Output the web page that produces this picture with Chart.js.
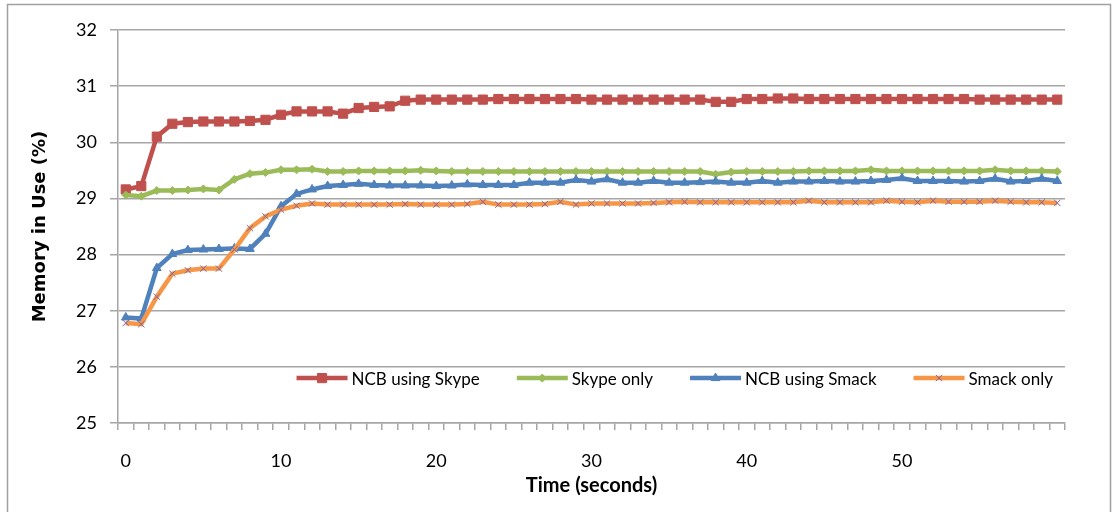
<!DOCTYPE html>
<html>
<head>
<meta charset="utf-8">
<script src="https://cdn.jsdelivr.net/npm/chart.js@4"></script>
<style>
  html, body { margin: 0; padding: 0; background: #fff; }
  #wrap { width: 1117px; height: 512px; position: relative; }
</style>
</head>
<body>
<div id="wrap"><canvas id="memChart" width="1117" height="512"></canvas></div>
<script>
const timeLabels = [0,1,2,3,4,5,6,7,8,9,10,11,12,13,14,15,16,17,18,19,20,21,22,23,24,25,26,27,28,29,
  30,31,32,33,34,35,36,37,38,39,40,41,42,43,44,45,46,47,48,49,50,51,52,53,54,55,56,57,58,59,60];

const ncbSkype = [29.16, 29.22, 30.10, 30.33, 30.36, 30.37, 30.37, 30.37, 30.38, 30.40,
  30.49, 30.55, 30.55, 30.55, 30.51, 30.61, 30.63, 30.64, 30.74, 30.76,
  30.76, 30.76, 30.76, 30.76, 30.77, 30.77, 30.77, 30.77, 30.77, 30.77,
  30.76, 30.76, 30.76, 30.76, 30.76, 30.76, 30.76, 30.76, 30.72, 30.72,
  30.77, 30.77, 30.78, 30.78, 30.77, 30.77, 30.77, 30.77, 30.77, 30.77,
  30.77, 30.77, 30.77, 30.77, 30.77, 30.76, 30.76, 30.76, 30.76, 30.76,
  30.76];

const skypeOnly = [29.06, 29.04, 29.14, 29.14, 29.15, 29.17, 29.15, 29.34, 29.44, 29.46,
  29.51, 29.51, 29.52, 29.48, 29.48, 29.49, 29.49, 29.49, 29.49, 29.50,
  29.49, 29.48, 29.48, 29.48, 29.48, 29.48, 29.48, 29.48, 29.48, 29.48,
  29.48, 29.48, 29.48, 29.48, 29.48, 29.48, 29.48, 29.48, 29.43, 29.47,
  29.48, 29.48, 29.48, 29.48, 29.49, 29.49, 29.49, 29.49, 29.51, 29.49,
  29.49, 29.49, 29.49, 29.49, 29.49, 29.49, 29.51, 29.49, 29.49, 29.49,
  29.48];

const ncbSmack = [26.88, 26.86, 27.76, 28.01, 28.08, 28.09, 28.10, 28.11, 28.10, 28.37,
  28.86, 29.08, 29.16, 29.22, 29.24, 29.26, 29.24, 29.23, 29.23, 29.23,
  29.22, 29.23, 29.25, 29.24, 29.24, 29.24, 29.28, 29.28, 29.28, 29.33,
  29.30, 29.34, 29.28, 29.28, 29.31, 29.28, 29.28, 29.29, 29.30, 29.28,
  29.28, 29.31, 29.28, 29.30, 29.30, 29.31, 29.30, 29.30, 29.31, 29.33,
  29.36, 29.31, 29.31, 29.31, 29.30, 29.31, 29.35, 29.30, 29.31, 29.35,
  29.31];

const smackOnly = [26.78, 26.76, 27.25, 27.66, 27.72, 27.75, 27.75, 28.09, 28.47, 28.68,
  28.80, 28.87, 28.91, 28.89, 28.89, 28.89, 28.89, 28.89, 28.90, 28.89,
  28.89, 28.89, 28.90, 28.94, 28.89, 28.89, 28.89, 28.90, 28.94, 28.89,
  28.91, 28.91, 28.91, 28.91, 28.92, 28.93, 28.94, 28.93, 28.93, 28.93,
  28.93, 28.93, 28.93, 28.93, 28.96, 28.93, 28.93, 28.93, 28.93, 28.96,
  28.94, 28.93, 28.96, 28.94, 28.94, 28.94, 28.96, 28.94, 28.93, 28.93,
  28.92];

const seriesNames = ['NCB using Skype', 'Skype only', 'NCB using Smack', 'Smack only'];
const xTickLabels = ['0', '10', '20', '30', '40', '50'];

const gridGrey = '#a6a6a6';
const fontFamily = 'Lato, "Open Sans", sans-serif';

// frame round the whole chart, like the Excel chart border
const framePlugin = {
  id: 'frame',
  beforeDraw(chart) {
    const ctx = chart.ctx;
    ctx.save();
    ctx.fillStyle = '#fff';
    ctx.fillRect(0, 0, chart.width, chart.height);
    ctx.strokeStyle = '#a0a0a0';
    ctx.lineWidth = 1.5;
    ctx.strokeRect(7.5, 4.5, 1103, 530);
    ctx.restore();
  }
};

// legend drawn inside the plot area, bottom right
const insideLegend = {
  id: 'insideLegend',
  afterDraw(chart) {
    const ctx = chart.ctx;
    const area = chart.chartArea;
    ctx.save();
    ctx.font = '17px ' + fontFamily;
    ctx.textBaseline = 'middle';
    const lineLen = 51, gapText = 4, gapItem = 37;
    const items = chart.data.datasets.map(ds => ({ ds, w: ctx.measureText(ds.label).width }));
    let total = 0;
    items.forEach((it, i) => { total += lineLen + gapText + it.w + (i < items.length - 1 ? gapItem : 0); });
    let x = area.right - 12 - total;
    const y = chart.scales.y.getPixelForValue(25.8);
    items.forEach(it => {
      const ds = it.ds;
      ctx.strokeStyle = ds.borderColor;
      ctx.lineWidth = ds.borderWidth;
      ctx.beginPath();
      ctx.moveTo(x, y);
      ctx.lineTo(x + lineLen, y);
      ctx.stroke();
      ctx.fillStyle = ds.pointBackgroundColor;
      ctx.strokeStyle = ds.pointBorderColor;
      ctx.lineWidth = ds.pointBorderWidth;
      Chart.helpers.drawPoint(ctx, { pointStyle: ds.pointStyle, radius: ds.pointRadius, rotation: 0, borderWidth: ds.pointBorderWidth }, x + lineLen / 2, y);
      ctx.fillStyle = '#000';
      ctx.fillText(ds.label, x + lineLen + gapText, y + 1);
      x += lineLen + gapText + it.w + gapItem;
    });
    ctx.restore();
  }
};

function makeSet(label, data, color, style, radius, markColor, markBorder) {
  return {
    label: label,
    data: data,
    borderColor: color,
    backgroundColor: color,
    borderWidth: 4.5,
    pointStyle: style,
    pointRadius: radius,
    pointHoverRadius: radius,
    pointBackgroundColor: markColor,
    pointBorderColor: markBorder,
    pointBorderWidth: 1,
    tension: 0,
    fill: false
  };
}

const datasets = [
  makeSet(seriesNames[0], ncbSkype, '#c0504d', 'rect', 6.5, '#c0504d', '#c0504d'),
  makeSet(seriesNames[1], skypeOnly, '#9bbb59', 'rectRot', 4, '#9bbb59', '#9bbb59'),
  makeSet(seriesNames[2], ncbSmack, '#4f81bd', 'triangle', 5, '#4f81bd', '#4f81bd'),
  makeSet(seriesNames[3], smackOnly, '#f79646', 'crossRot', 4.5, '#8064a2', '#8064a2')
];
datasets.forEach((ds, i) => { ds.order = 3 - i; });

new Chart(document.getElementById('memChart'), {
  type: 'line',
  data: { labels: timeLabels, datasets: datasets },
  plugins: [framePlugin, insideLegend],
  options: {
    responsive: false,
    animation: false,
    layout: { padding: { left: 8, top: 30, right: 52, bottom: 6 } },
    plugins: {
      legend: { display: false },
      tooltip: { enabled: false }
    },
    scales: {
      x: {
        type: 'category',
        offset: true,
        grid: {
          offset: true,
          drawOnChartArea: false,
          drawTicks: true,
          tickLength: 7,
          color: gridGrey,
          lineWidth: 1.5
        },
        border: { display: true, color: gridGrey, width: 1.5 },
        ticks: {
          autoSkip: false,
          maxRotation: 0,
          padding: 20,
          color: '#000',
          font: { family: fontFamily, size: 18 },
          callback: function (val) {
            const lab = String(this.getLabelForValue(val));
            return xTickLabels.includes(lab) ? lab : '';
          }
        },
        title: {
          display: true,
          text: 'Time (seconds)',
          color: '#000',
          font: { family: fontFamily, size: 20, weight: 'bold' },
          padding: { top: 0, bottom: 8 }
        },
        afterFit: s => { s.height = 512 - 423 - 6; }
      },
      y: {
        min: 25,
        max: 32,
        grid: {
          color: gridGrey,
          lineWidth: 1.5,
          tickLength: 8
        },
        border: { display: true, color: gridGrey, width: 1.5 },
        ticks: {
          stepSize: 1,
          padding: 13,
          color: '#000',
          font: { family: fontFamily, size: 18 }
        },
        title: {
          display: true,
          text: 'Memory in Use (%)',
          color: '#000',
          font: { family: '"DejaVu Sans", sans-serif', size: 18, weight: 'bold' },
          padding: { top: 22, bottom: 0 }
        },
        afterFit: s => { s.width = 110; }
      }
    }
  }
});
</script>
</body>
</html>
